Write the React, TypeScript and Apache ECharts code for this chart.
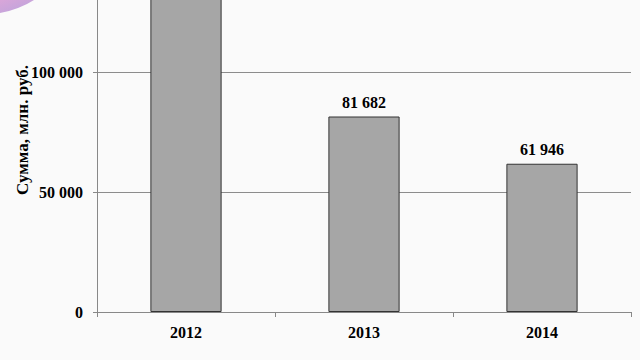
import React, { useEffect, useRef } from "react";
import * as echarts from "echarts";

const categories = ["2012", "2013", "2014"];
const values = [148000, 81682, 61946];
const yTicks = [0, 50000, 100000, 150000];
const axisTitle = "Сумма, млн. руб.";

const fmt = (v: number) => String(Math.round(v)).replace(/\B(?=(\d{3})+(?!\d))/g, " ");

export default function App() {
  const ref = useRef<HTMLDivElement>(null);
  useEffect(() => {
    document.body.style.margin = "0";
    const chart = echarts.init(ref.current!, null, { renderer: "svg" });
    const font = "Liberation Serif, Times New Roman, serif";
    chart.setOption({
      animation: false,
      backgroundColor: "#fafafa",
      grid: {
        left: 97,
        right: 9,
        top: -47,
        bottom: 48,
        containLabel: false,
        outerBoundsMode: "none",
      },
      xAxis: {
        type: "category",
        data: categories,
        boundaryGap: true,
        axisLine: { show: true, lineStyle: { color: "#888888", width: 1 } },
        axisTick: { show: true, length: 5, lineStyle: { color: "#888888" } },
        axisLabel: { color: "#000", fontFamily: font, fontWeight: "bold", fontSize: 16, margin: 12 },
      },
      yAxis: {
        type: "value",
        min: yTicks[0],
        max: yTicks[yTicks.length - 1],
        interval: yTicks[1] - yTicks[0],
        axisLine: { show: true, lineStyle: { color: "#888888", width: 1 } },
        axisTick: { show: true, length: 4, lineStyle: { color: "#888888" } },
        splitLine: { show: true, lineStyle: { color: "#8c8c8c", width: 1 } },
        axisLabel: {
          color: "#000",
          fontFamily: font,
          fontWeight: "bold",
          fontSize: 16,
          margin: 14,
          showMaxLabel: false,
          formatter: (v: number) => fmt(v),
        },
      },
      series: [
        {
          type: "bar",
          data: values.map((v, i) => ({
            value: v,
            label: { show: i !== 0 },
          })),
          barWidth: "40%",
          itemStyle: { color: "#a6a6a6", borderColor: "#333333", borderWidth: 1 },
          label: {
            show: true,
            position: "top",
            distance: 6,
            color: "#000",
            fontFamily: font,
            fontWeight: "bold",
            fontSize: 16,
            formatter: (p: any) => fmt(p.value),
          },
        },
      ],
      graphic: [
        {
          type: "polygon",
          shape: {
            points: [
              [0, 0],
              [34, 0],
              [27, 4],
              [18, 8],
              [9, 11],
              [0, 13],
            ],
          },
          style: {
            fill: new echarts.graphic.LinearGradient(0, 0, 1, 1, [
              { offset: 0, color: "#d9a6d9" },
              { offset: 1, color: "#b9a3dc" },
            ]),
          },
        },
        {
          type: "text",
          x: 22,
          y: 130,
          rotation: Math.PI / 2,
          style: {
            text: axisTitle,
            fill: "#000",
            font: `bold 17px ${font}`,
            textAlign: "center",
            textVerticalAlign: "middle",
          },
        },
      ],
    });
    return () => chart.dispose();
  }, []);
  return (
    <div
      ref={ref}
      style={{ position: "fixed", left: 0, top: 0, width: 640, height: 360 }}
    />
  );
}
